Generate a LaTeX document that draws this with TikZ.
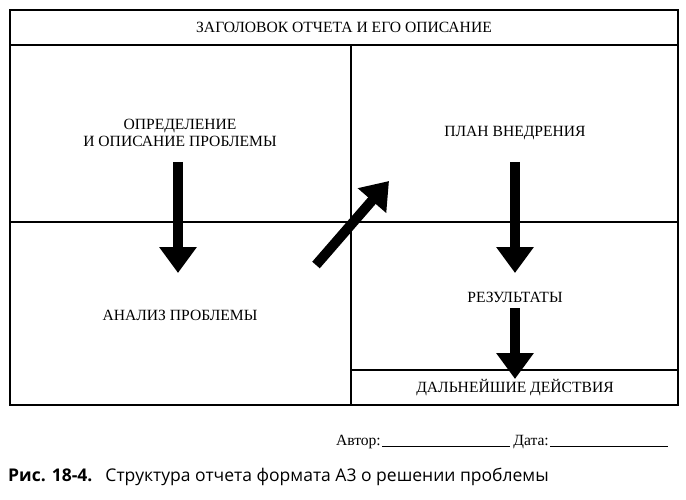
\documentclass[tikz,border=0pt]{standalone}
\usepackage{fontspec}
\setmainfont{Liberation Serif}
\newfontfamily\capfont{Open Sans}
\usetikzlibrary{arrows.meta}
\begin{document}
\begin{tikzpicture}[x=1pt,y=-1pt,
  box/.style={draw,line width=1.2pt},
  lbl/.style={font=\fontsize{15.6}{17.5}\selectfont,align=center,inner sep=0pt},
  big/.style={line width=10pt,-{Triangle[width=36pt,length=26pt]}}]
\useasboundingbox (0,0) rectangle (686,500);
\draw[box] (10,10) rectangle (678,405);
\draw[box] (10,45) -- (678,45);
\draw[box] (351,45) -- (351,405);
\draw[box] (10,222) -- (678,222);
\draw[box] (351,370) -- (678,370);
\node[lbl] (t) at (344,27) {ЗАГОЛОВОК ОТЧЕТА И ЕГО ОПИСАНИЕ};
\node[lbl] (a) at (180,133) {ОПРЕДЕЛЕНИЕ\\И ОПИСАНИЕ ПРОБЛЕМЫ};
\node[lbl] (b) at (180,315) {АНАЛИЗ ПРОБЛЕМЫ};
\node[lbl] (c) at (515,133) {ПЛАН ВНЕДРЕНИЯ};
\node[lbl] (d) at (515,297) {РЕЗУЛЬТАТЫ};
\node[lbl] (e) at (515,388) {ДАЛЬНЕЙШИЕ ДЕЙСТВИЯ};
\coordinate (a1) at (178,162); \coordinate (a2) at (178,273);
\coordinate (g1) at (316,265); \coordinate (g2) at (389,181);
\coordinate (c1) at (515,162); \coordinate (c2) at (515,273);
\coordinate (d1) at (515,308); \coordinate (d2) at (515,379);
\draw[big] (a1) -- (a2);
\draw[big] (g1) -- (g2);
\draw[big] (c1) -- (c2);
\draw[big] (d1) -- (d2);
\node[lbl,anchor=base east] (au) at (381,445) {Автор:};
\draw[line width=0.6pt] (382,446) -- (510,446);
\node[lbl,anchor=base east] (da) at (549,445) {Дата:};
\draw[line width=0.6pt] (550,446) -- (668,446);
\node[anchor=base west,inner sep=0pt,font=\capfont\fontsize{17.5}{19}\selectfont] (cap) at (8,481) {\textbf{Рис. 18-4.}\hspace{7pt} Структура отчета формата А3 о решении проблемы};
\end{tikzpicture}
\end{document}
